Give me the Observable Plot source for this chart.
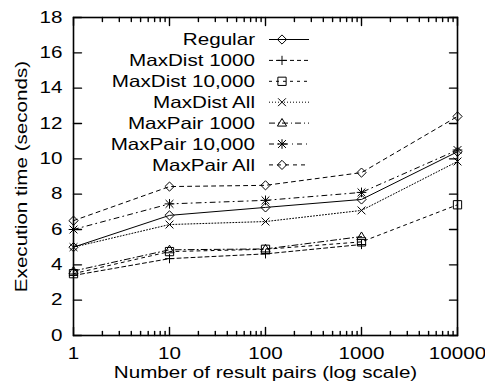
<!DOCTYPE html>
<html><head><meta charset="utf-8">
<script src="https://cdn.jsdelivr.net/npm/d3@7"></script>
<script src="https://cdn.jsdelivr.net/npm/@observablehq/plot@0.6"></script>
<style>html,body{margin:0;padding:0;background:#fff}</style>
</head><body><div id="chart"></div>
<script>
// ---- data ----
const xValues = [1, 10, 100, 1000, 10000];
const seriesNames = ["Regular", "MaxDist 1000", "MaxDist 10,000", "MaxDist All", "MaxPair 1000", "MaxPair 10,000", "MaxPair All"];
const regular      = [5.0, 6.8, 7.25, 7.7, 10.4];
const maxDist1000  = [3.4, 4.35, 4.62, 5.15];
const maxDist10000 = [3.5, 4.75, 4.88, 5.3, 7.4];
const maxDistAll   = [5.0, 6.28, 6.45, 7.08, 9.85];
const maxPair1000  = [3.65, 4.85, 4.9, 5.6];
const maxPair10000 = [6.0, 7.45, 7.65, 8.1, 10.5];
const maxPairAll   = [6.5, 8.43, 8.5, 9.22, 12.4];
const yTicks = [0, 2, 4, 6, 8, 10, 12, 14, 16, 18];
const xTicks = [1, 10, 100, 1000, 10000];
const xTickLabels = ["1", "10", "100", "1000", "10000"];
const xLabel = "Number of result pairs (log scale)";
const yLabel = "Execution time (seconds)";

const seriesValues = [regular, maxDist1000, maxDist10000, maxDistAll, maxPair1000, maxPair10000, maxPairAll];

// ---- styles ----
const dashes = ["none", "4,3", "3,4", "1,2", "6,3,1,3", "5,4,1,4", "4,4"];
const R = 4.6;
const shapes = {
  diamond: (c, r) => { c.moveTo(0, -r); c.lineTo(r, 0); c.lineTo(0, r); c.lineTo(-r, 0); c.closePath(); },
  plus: (c, r) => { c.moveTo(-r, 0); c.lineTo(r, 0); c.moveTo(0, -r); c.lineTo(0, r); },
  square: (c, r) => { const s = r * 0.9; c.rect(-s, -s, 2 * s, 2 * s); },
  times: (c, r) => { const s = r * 0.85; c.moveTo(-s, -s); c.lineTo(s, s); c.moveTo(-s, s); c.lineTo(s, -s); },
  triangle: (c, r) => { c.moveTo(0, -r); c.lineTo(r, r * 0.65); c.lineTo(-r, r * 0.65); c.closePath(); },
  star: (c, r) => { shapes.plus(c, r * 1.05); shapes.times(c, r); }
};
const seriesShapes = ["diamond", "plus", "square", "times", "triangle", "star", "diamond"];
const symbolOf = (name) => ({draw(context, size) { shapes[name](context, Math.sqrt(size / Math.PI)); }});

const rowsOf = (k) => seriesValues[k].map((v, i) => ({series: seriesNames[k], x: xValues[i], y: v}));

const minorTicks = [];
for (let d = 1; d < 10000; d *= 10) for (let m = 2; m <= 9; m++) minorTicks.push(m * d);

const tickShape = {draw(context, l) { context.moveTo(0, 0); context.lineTo(0, -l); }};
const tickVec = (data, frameAnchor, rotate, length, channel) =>
  Plot.vector(data, {[channel]: (d) => d, frameAnchor, rotate, length, anchor: "start", shape: tickShape, stroke: "black", strokeWidth: 1.4});

const legendMark = () => {
  const g = d3.create("svg:g");
  seriesNames.forEach((name, i) => {
    const y = 39.5 + 20.9 * i;
    g.append("text").attr("transform", `translate(255,${y})`).attr("text-anchor", "end").attr("dy", "0.35em")
      .attr("fill", "black").text(name);
    g.append("line").attr("x1", 269).attr("x2", 309).attr("y1", y).attr("y2", y)
      .attr("stroke", "black").attr("stroke-width", 1).attr("stroke-dasharray", dashes[i]);
    const p = d3.path();
    shapes[seriesShapes[i]](p, R);
    g.append("path").attr("d", p.toString()).attr("transform", `translate(282,${y})`)
      .attr("fill", "none").attr("stroke", "black").attr("stroke-width", 1);
  });
  return g.node();
};

const marks = [];
seriesNames.forEach((name, k) => {
  marks.push(Plot.line(rowsOf(k), {x: "x", y: "y", stroke: "black", strokeWidth: 1, strokeDasharray: dashes[k]}));
});
seriesNames.forEach((name, k) => {
  marks.push(Plot.dot(rowsOf(k), {x: "x", y: "y", symbol: symbolOf(seriesShapes[k]), r: R, stroke: "black", fill: "none", strokeWidth: 1}));
});
marks.push(
  tickVec(xTicks, "bottom", 0, 8, "x"),
  tickVec(xTicks, "top", 180, 8, "x"),
  tickVec(minorTicks, "bottom", 0, 4, "x"),
  tickVec(minorTicks, "top", 180, 4, "x"),
  tickVec(yTicks, "left", 90, 8, "y"),
  tickVec(yTicks, "right", -90, 8, "y"),
  Plot.frame({stroke: "black", strokeWidth: 1.6}),
  Plot.axisX({ticks: xTicks, tickSize: 0, tickPadding: 12, tickFormat: (d) => xTickLabels[xTicks.indexOf(d)], label: null, fill: "black"}),
  Plot.axisY({ticks: yTicks, tickSize: 0, tickPadding: 11, label: null, fill: "black"}),
  Plot.text([xLabel], {frameAnchor: "bottom", dy: 37, textAnchor: "middle", lineAnchor: "middle", fill: "black"}),
  Plot.text([yLabel], {frameAnchor: "left", dx: -52, rotate: -90, textAnchor: "middle", lineAnchor: "middle", fill: "black"}),
  legendMark
);

const svg = Plot.plot({
  width: 485, height: 392,
  marginLeft: 73, marginRight: 28, marginTop: 17, marginBottom: 57,
  x: {type: "log", domain: [1, 10000]},
  y: {domain: [0, 18]},
  style: {fontFamily: "'Liberation Sans', Arial, sans-serif", fontSize: "16.5px", color: "black", background: "white"},
  marks
});
svg.querySelectorAll("text").forEach((t) => {
  t.setAttribute("transform", (t.getAttribute("transform") || "") + " scale(1.25,1)");
});
document.getElementById("chart").appendChild(svg);
</script>
</body></html>
